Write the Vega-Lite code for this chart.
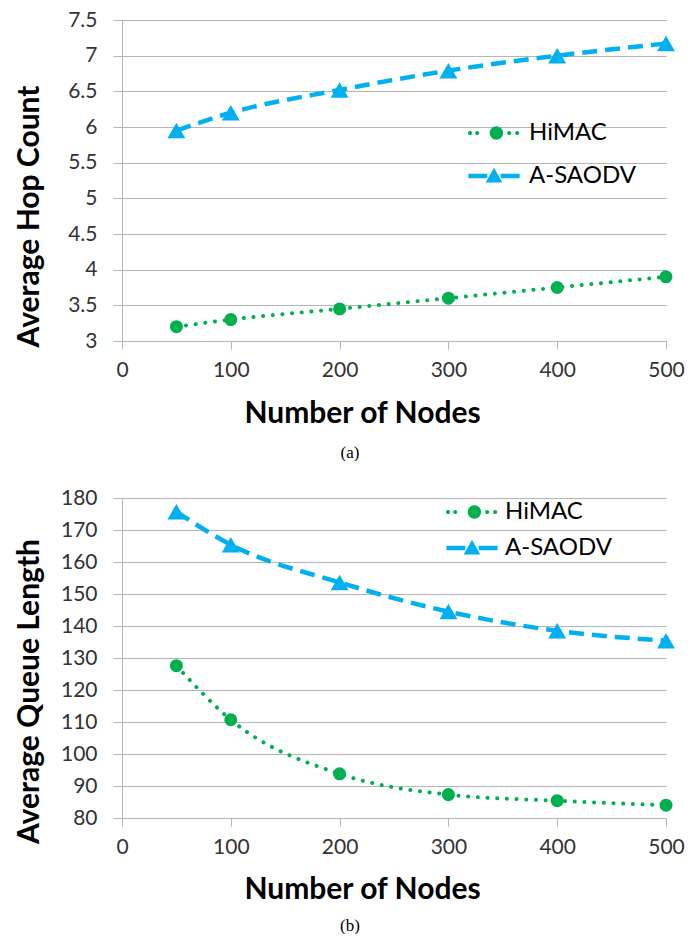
{
  "$schema": "https://vega.github.io/schema/vega-lite/v6.json",
  "background": "white",
  "padding": {"left": 14, "top": 9, "right": 5, "bottom": 0},
  "spacing": 26,
  "resolve": {"scale": {"fill": "independent"}, "legend": {"fill": "independent"}},
  "config": {
    "font": "Lato",
    "view": {"stroke": null},
    "axis": {
      "gridColor": "#b5b5b5", "domainColor": "#b5b5b5", "tickColor": "#b5b5b5",
      "labelFont": "Lato", "labelFontSize": 21, "labelColor": "#333333",
      "titleFont": "Lato", "titleFontSize": 30, "titleFontWeight": "bold", "titleColor": "#000000",
      "labelFlush": false, "labelOverlap": false
    },
    "title": {"font": "Liberation Serif", "fontSize": 17, "fontWeight": "normal", "color": "#000000"}
  },
  "datasets": {
    "hop": [
      {"nodes": 50, "series": "HiMAC", "value": 3.2},
      {"nodes": 100, "series": "HiMAC", "value": 3.3},
      {"nodes": 200, "series": "HiMAC", "value": 3.45},
      {"nodes": 300, "series": "HiMAC", "value": 3.6},
      {"nodes": 400, "series": "HiMAC", "value": 3.75},
      {"nodes": 500, "series": "HiMAC", "value": 3.9},
      {"nodes": 50, "series": "A-SAODV", "value": 5.95},
      {"nodes": 100, "series": "A-SAODV", "value": 6.2},
      {"nodes": 200, "series": "A-SAODV", "value": 6.52},
      {"nodes": 300, "series": "A-SAODV", "value": 6.79},
      {"nodes": 400, "series": "A-SAODV", "value": 7.0},
      {"nodes": 500, "series": "A-SAODV", "value": 7.17}
    ],
    "queue": [
      {"nodes": 50, "series": "HiMAC", "value": 127.6},
      {"nodes": 100, "series": "HiMAC", "value": 110.7},
      {"nodes": 200, "series": "HiMAC", "value": 93.8},
      {"nodes": 300, "series": "HiMAC", "value": 87.3},
      {"nodes": 400, "series": "HiMAC", "value": 85.4},
      {"nodes": 500, "series": "HiMAC", "value": 84.0},
      {"nodes": 50, "series": "A-SAODV", "value": 175.7},
      {"nodes": 100, "series": "A-SAODV", "value": 165.4},
      {"nodes": 200, "series": "A-SAODV", "value": 153.6},
      {"nodes": 300, "series": "A-SAODV", "value": 144.5},
      {"nodes": 400, "series": "A-SAODV", "value": 138.5},
      {"nodes": 500, "series": "A-SAODV", "value": 135.4}
    ]
  },
  "vconcat": [
    {
      "width": 544, "height": 321,
      "data": {"name": "hop"},
      "title": {"text": "(a)", "orient": "bottom", "anchor": "middle", "frame": "group", "dx": -44, "offset": 17, "baseline": "top"},
      "encoding": {
        "x": {"field": "nodes", "type": "quantitative", "scale": {"domain": [0, 500], "nice": false},
          "axis": {"values": [0, 100, 200, 300, 400, 500], "grid": false, "title": "Number of Nodes", "tickSize": 8, "labelPadding": 10, "titleX": 240, "titleY": 72, "titleBaseline": "middle", "titleAlign": "center"}},
        "y": {"field": "value", "type": "quantitative", "scale": {"domain": [3, 7.5], "nice": false, "zero": false},
          "axis": {"values": [3, 3.5, 4, 4.5, 5, 5.5, 6, 6.5, 7, 7.5], "format": "~g", "title": "Average Hop Count", "tickSize": 9, "labelPadding": 16, "titleX": -93, "titleY": 196, "titleBaseline": "middle", "titleAngle": 270, "titleAlign": "center"}},
        "fill": {"field": "series", "type": "nominal", "scale": {"domain": ["HiMAC", "A-SAODV"], "range": ["#00b050", "#00b0f0"]},
          "legend": {"orient": "none", "legendX": 356, "legendY": 97, "title": null, "symbolSize": 1024, "symbolStrokeWidth": 0, "symbolOpacity": 1, "labelFont": "Lato", "labelFontSize": 24, "labelColor": "#000000", "labelOffset": 19, "rowPadding": 15,
            "encode": {"symbols": {"update": {"shape": {"signal": "datum.value === 'HiMAC' ? 'M-1.63,0A0.13,0.13,0,1,0,-1.37,0A0.13,0.13,0,1,0,-1.63,0M-1.18,0A0.13,0.13,0,1,0,-0.92,0A0.13,0.13,0,1,0,-1.18,0M-0.27,0A0.42,0.42,0,1,0,0.57,0A0.42,0.42,0,1,0,-0.27,0M0.82,0A0.13,0.13,0,1,0,1.08,0A0.13,0.13,0,1,0,0.82,0M1.32,0A0.13,0.13,0,1,0,1.58,0A0.13,0.13,0,1,0,1.32,0' : 'M-1.6,-0.14L-0.42,-0.14L-0.42,0.14L-1.6,0.14L-1.6,-0.14M0.42,-0.14L1.6,-0.14L1.6,0.14L0.42,0.14L0.42,-0.14M0,-0.52L0.52,0.4L-0.52,0.4L0,-0.52'"}}}}}}
      },
      "layer": [
        {"transform": [{"filter": "datum.series === 'HiMAC'"}],
          "mark": {"type": "line", "interpolate": "monotone", "color": "#00b050", "strokeWidth": 4, "strokeDash": [0.1, 9.6], "strokeCap": "round"},
          "encoding": {"fill": {"value": null}}},
        {"transform": [{"filter": "datum.series === 'A-SAODV'"}],
          "mark": {"type": "line", "interpolate": "monotone", "color": "#00b0f0", "strokeWidth": 4.5, "strokeDash": [15, 8]},
          "encoding": {"fill": {"value": null}}},
        {"transform": [{"filter": "datum.series === 'HiMAC'"}],
          "mark": {"type": "point", "filled": true, "opacity": 1, "shape": "circle", "size": 170}},
        {"transform": [{"filter": "datum.series === 'A-SAODV'"}],
          "mark": {"type": "point", "filled": true, "opacity": 1, "shape": "triangle-up", "size": 320}}
      ]
    },
    {
      "width": 544, "height": 320,
      "data": {"name": "queue"},
      "title": {"text": "(b)", "orient": "bottom", "anchor": "middle", "frame": "group", "dx": -44, "offset": 14, "baseline": "top"},
      "encoding": {
        "x": {"field": "nodes", "type": "quantitative", "scale": {"domain": [0, 500], "nice": false},
          "axis": {"values": [0, 100, 200, 300, 400, 500], "grid": false, "title": "Number of Nodes", "tickSize": 8, "labelPadding": 10, "titleX": 240, "titleY": 71, "titleBaseline": "middle", "titleAlign": "center"}},
        "y": {"field": "value", "type": "quantitative", "scale": {"domain": [80, 180], "nice": false, "zero": false},
          "axis": {"values": [80, 90, 100, 110, 120, 130, 140, 150, 160, 170, 180], "title": "Average Queue Length", "tickSize": 9, "labelPadding": 16, "titleX": -93, "titleY": 193, "titleBaseline": "middle", "titleAngle": 270, "titleAlign": "center"}},
        "fill": {"field": "series", "type": "nominal", "scale": {"domain": ["HiMAC", "A-SAODV"], "range": ["#00b050", "#00b0f0"]},
          "legend": {"orient": "none", "legendX": 334, "legendY": -2, "title": null, "symbolSize": 1024, "symbolStrokeWidth": 0, "symbolOpacity": 1, "labelFont": "Lato", "labelFontSize": 24, "labelColor": "#000000", "labelOffset": 17, "rowPadding": 8,
            "encode": {"symbols": {"update": {"shape": {"signal": "datum.value === 'HiMAC' ? 'M-1.63,0A0.13,0.13,0,1,0,-1.37,0A0.13,0.13,0,1,0,-1.63,0M-1.18,0A0.13,0.13,0,1,0,-0.92,0A0.13,0.13,0,1,0,-1.18,0M-0.27,0A0.42,0.42,0,1,0,0.57,0A0.42,0.42,0,1,0,-0.27,0M0.82,0A0.13,0.13,0,1,0,1.08,0A0.13,0.13,0,1,0,0.82,0M1.32,0A0.13,0.13,0,1,0,1.58,0A0.13,0.13,0,1,0,1.32,0' : 'M-1.6,-0.14L-0.42,-0.14L-0.42,0.14L-1.6,0.14L-1.6,-0.14M0.42,-0.14L1.6,-0.14L1.6,0.14L0.42,0.14L0.42,-0.14M0,-0.52L0.52,0.4L-0.52,0.4L0,-0.52'"}}}}}}
      },
      "layer": [
        {"transform": [{"filter": "datum.series === 'HiMAC'"}],
          "mark": {"type": "line", "interpolate": "monotone", "color": "#00b050", "strokeWidth": 4, "strokeDash": [0.1, 9.6], "strokeCap": "round"},
          "encoding": {"fill": {"value": null}}},
        {"transform": [{"filter": "datum.series === 'A-SAODV'"}],
          "mark": {"type": "line", "interpolate": "monotone", "color": "#00b0f0", "strokeWidth": 4.5, "strokeDash": [15, 8]},
          "encoding": {"fill": {"value": null}}},
        {"transform": [{"filter": "datum.series === 'HiMAC'"}],
          "mark": {"type": "point", "filled": true, "opacity": 1, "shape": "circle", "size": 170}},
        {"transform": [{"filter": "datum.series === 'A-SAODV'"}],
          "mark": {"type": "point", "filled": true, "opacity": 1, "shape": "triangle-up", "size": 320}}
      ]
    }
  ]
}
